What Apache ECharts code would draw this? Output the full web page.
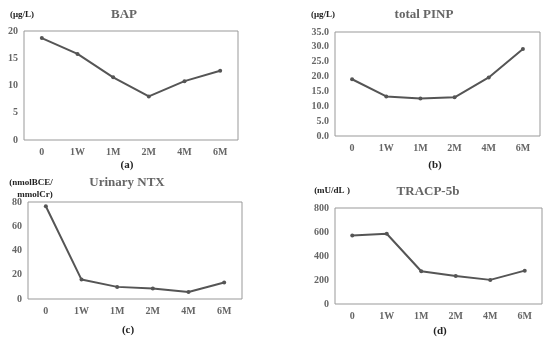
<!DOCTYPE html>
<html><head><meta charset="utf-8">
<script src="https://cdn.jsdelivr.net/npm/echarts@6/dist/echarts.min.js"></script>
<style>html,body{margin:0;padding:0;background:#fff}#c{width:550px;height:343px}</style>
</head><body><div id="c"></div>
<script>
var categories = ['0','1W','1M','2M','4M','6M'];
var bapValues = [18.7, 15.8, 11.5, 8.0, 10.8, 12.7];
var pinpValues = [19.1, 13.3, 12.6, 13.0, 19.7, 29.3];
var ntxValues = [76.5, 16, 10, 8.7, 5.8, 13.6];
var tracpValues = [571, 585, 273, 234, 201, 278];
var titles = ['BAP', 'total PINP', 'Urinary NTX', 'TRACP-5b'];
var units = ['(μg/L)', '(μg/L)', '(nmolBCE/', '(mU/dL )', 'mmolCr)'];
var panelLabels = ['(a)', '(b)', '(c)', '(d)'];
var yMax = [20, 35, 80, 800];
var yInterval = [5, 5, 20, 200];

var FONT = '"Liberation Serif", "Times New Roman", serif';
var grids = [
  {left: 24, top: 31, width: 214, height: 109},
  {left: 335, top: 32, width: 205, height: 104},
  {left: 28, top: 202, width: 214, height: 97},
  {left: 335, top: 208, width: 207, height: 96}
];
var seriesData = [bapValues, pinpValues, ntxValues, tracpValues];
var chart = echarts.init(document.getElementById('c'));
var option = {
  animation: false,
  grid: grids.map(function(g){ return Object.assign({show: true, borderColor: '#999', borderWidth: 1, backgroundColor: 'transparent'}, g); }),
  xAxis: grids.map(function(g, i){ return {
    type: 'category', gridIndex: i, data: categories, boundaryGap: true,
    axisLine: {show: false}, axisTick: {show: false},
    axisLabel: {color: '#666', fontFamily: FONT, fontWeight: 'bold', fontSize: 10, margin: 7}
  };}),
  yAxis: grids.map(function(g, i){ return {
    type: 'value', gridIndex: i, min: 0, max: yMax[i], interval: yInterval[i],
    axisLine: {show: false}, axisTick: {show: false}, splitLine: {show: false},
    axisLabel: {color: '#666', fontFamily: FONT, fontWeight: 'bold', fontSize: 10, margin: 6,
      formatter: i === 1 ? function(v){ return v.toFixed(1); } : null}
  };}),
  series: seriesData.map(function(d, i){ return {
    type: 'line', xAxisIndex: i, yAxisIndex: i, data: d,
    symbol: 'circle', symbolSize: 4,
    lineStyle: {color: '#555', width: 2}, itemStyle: {color: '#555'}
  };}),
  graphic: []
};
var titlePos = [[124, 15], [424, 15], [127, 183], [428, 192]];
var unitPos = [[22, 15], [323, 15], [31, 183], [332, 191], [35, 195]];
var labelPos = [[127, 165], [435, 165], [128, 330], [440, 331]];
for (var i = 0; i < 4; i++) {
  option.graphic.push({type: 'text', x: titlePos[i][0], y: titlePos[i][1], style: {text: titles[i], fill: '#666', font: 'bold 13px ' + FONT, textAlign: 'center', textVerticalAlign: 'middle'}});
  option.graphic.push({type: 'text', x: labelPos[i][0], y: labelPos[i][1], style: {text: panelLabels[i], fill: '#222', font: 'bold 11px ' + FONT, textAlign: 'center', textVerticalAlign: 'middle'}});
}
for (var j = 0; j < units.length; j++) {
  option.graphic.push({type: 'text', x: unitPos[j][0], y: unitPos[j][1], style: {text: units[j], fill: '#222', font: 'bold 9px ' + FONT, textAlign: 'center', textVerticalAlign: 'middle'}});
}
chart.setOption(option);
</script></body></html>
